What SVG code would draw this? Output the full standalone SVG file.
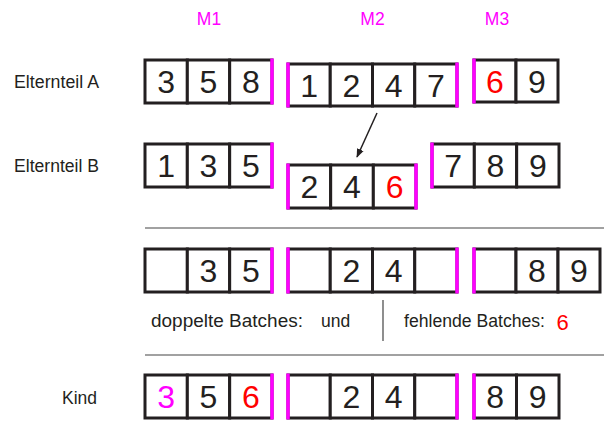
<svg xmlns="http://www.w3.org/2000/svg" width="604" height="421" viewBox="0 0 604 421">
<defs>
<style>
.c{fill:#fff;stroke:#231f20;stroke-width:3}
.m{stroke:#ff00ff;stroke-width:3.5}
.d{font-family:"Liberation Sans",Arial,sans-serif;font-size:32px;fill:#231f20;text-anchor:middle}
.r{fill:#ff0000}
.p{fill:#ff00ff}
.l{font-family:"Liberation Sans",Arial,sans-serif;font-size:17.5px;fill:#231f20}
.h{font-family:"Liberation Sans",Arial,sans-serif;font-size:17.5px;fill:#ff00ff;text-anchor:middle}
.sep{stroke:#444;stroke-width:1.2;fill:none}
</style>
<marker id="ah" viewBox="0 0 10 10" refX="9" refY="5" markerWidth="9" markerHeight="9" orient="auto" markerUnits="userSpaceOnUse">
<path d="M0,1 L10,5 L0,9 Z" fill="#231f20"/>
</marker>
</defs>
<rect width="604" height="421" fill="#fff"/>

<g id="headers">
<text class="h" x="209" y="25">M1</text>
<text class="h" x="372.5" y="25">M2</text>
<text class="h" x="497" y="25">M3</text>
</g>
<g id="rowlabels">
<text class="l" x="14" y="88" textLength="85" lengthAdjust="spacingAndGlyphs">Elternteil A</text>
<text class="l" x="14" y="172" textLength="85" lengthAdjust="spacingAndGlyphs">Elternteil B</text>
<text class="l" x="62" y="404">Kind</text>
</g>

<g id="A-M1">
<rect class="c" x="145" y="60" width="42.33" height="43"/><rect class="c" x="187.33" y="60" width="42.33" height="43"/><rect class="c" x="229.67" y="60" width="42.33" height="43"/>
<line class="m" x1="272" y1="58.5" x2="272" y2="104.5"/>
<text class="d" x="166.2" y="93">3</text><text class="d" x="208.5" y="93">5</text><text class="d" x="250.8" y="93">8</text>
</g>
<g id="A-M2">
<rect class="c" x="288" y="64" width="42.25" height="42"/><rect class="c" x="330.25" y="64" width="42.25" height="42"/><rect class="c" x="372.5" y="64" width="42.25" height="42"/><rect class="c" x="414.75" y="64" width="42.25" height="42"/>
<line class="m" x1="288" y1="62.5" x2="288" y2="107.5"/><line class="m" x1="457" y1="62.5" x2="457" y2="107.5"/>
<text class="d" x="309.1" y="96.5">1</text><text class="d" x="351.4" y="96.5">2</text><text class="d" x="393.6" y="96.5">4</text><text class="d" x="435.9" y="96.5">7</text>
</g>
<g id="A-M3">
<rect class="c" x="474" y="60" width="42" height="42"/><rect class="c" x="516" y="60" width="42" height="42"/>
<line class="m" x1="474" y1="58.5" x2="474" y2="103.5"/>
<text class="d r" x="495" y="92.5">6</text><text class="d" x="537" y="92.5">9</text>
</g>

<g id="B-M1">
<rect class="c" x="145" y="144" width="42.33" height="43"/><rect class="c" x="187.33" y="144" width="42.33" height="43"/><rect class="c" x="229.67" y="144" width="42.33" height="43"/>
<line class="m" x1="272" y1="142.5" x2="272" y2="188.5"/>
<text class="d" x="166.2" y="177">1</text><text class="d" x="208.5" y="177">3</text><text class="d" x="250.8" y="177">5</text>
</g>
<g id="B-M2">
<rect class="c" x="288" y="165" width="42.67" height="43"/><rect class="c" x="330.67" y="165" width="42.67" height="43"/><rect class="c" x="373.33" y="165" width="42.67" height="43"/>
<line class="m" x1="288" y1="163.5" x2="288" y2="209.5"/><line class="m" x1="416" y1="163.5" x2="416" y2="209.5"/>
<text class="d" x="309.3" y="198">2</text><text class="d" x="352" y="198">4</text><text class="d r" x="394.7" y="198">6</text>
</g>
<g id="B-M3">
<rect class="c" x="432" y="144" width="42.33" height="43"/><rect class="c" x="474.33" y="144" width="42.33" height="43"/><rect class="c" x="516.67" y="144" width="42.33" height="43"/>
<line class="m" x1="432" y1="142.5" x2="432" y2="188.5"/>
<text class="d" x="453.2" y="177">7</text><text class="d" x="495.5" y="177">8</text><text class="d" x="537.8" y="177">9</text>
</g>

<g id="C-M1">
<rect class="c" x="145" y="249" width="42.33" height="43"/><rect class="c" x="187.33" y="249" width="42.33" height="43"/><rect class="c" x="229.67" y="249" width="42.33" height="43"/>
<line class="m" x1="272" y1="247.5" x2="272" y2="293.5"/>
<text class="d" x="208.5" y="282">3</text><text class="d" x="250.8" y="282">5</text>
</g>
<g id="C-M2">
<rect class="c" x="288" y="249" width="42.25" height="43"/><rect class="c" x="330.25" y="249" width="42.25" height="43"/><rect class="c" x="372.5" y="249" width="42.25" height="43"/><rect class="c" x="414.75" y="249" width="42.25" height="43"/>
<line class="m" x1="288" y1="247.5" x2="288" y2="293.5"/><line class="m" x1="457" y1="247.5" x2="457" y2="293.5"/>
<text class="d" x="351.4" y="282">2</text><text class="d" x="393.6" y="282">4</text>
</g>
<g id="C-M3">
<rect class="c" x="474" y="249" width="42" height="43"/><rect class="c" x="516" y="249" width="42" height="43"/><rect class="c" x="558" y="249" width="42" height="43"/>
<line class="m" x1="474" y1="247.5" x2="474" y2="293.5"/>
<text class="d" x="537" y="282">8</text><text class="d" x="579" y="282">9</text>
</g>

<g id="notes">
<text class="l" x="151" y="327" textLength="152" lengthAdjust="spacingAndGlyphs">doppelte Batches:</text>
<text class="l" x="321" y="327">und</text>
<text class="l" x="404" y="327" textLength="141" lengthAdjust="spacingAndGlyphs">fehlende Batches:</text>
<text class="d r" x="562.5" y="330" style="font-size:22px">6</text>
</g>

<g id="K-M1">
<rect class="c" x="145" y="375" width="42.33" height="43"/><rect class="c" x="187.33" y="375" width="42.33" height="43"/><rect class="c" x="229.67" y="375" width="42.33" height="43"/>
<line class="m" x1="272" y1="373.5" x2="272" y2="419.5"/>
<text class="d p" x="166.2" y="408">3</text><text class="d" x="208.5" y="408">5</text><text class="d r" x="250.8" y="408">6</text>
</g>
<g id="K-M2">
<rect class="c" x="288" y="375" width="42.25" height="43"/><rect class="c" x="330.25" y="375" width="42.25" height="43"/><rect class="c" x="372.5" y="375" width="42.25" height="43"/><rect class="c" x="414.75" y="375" width="42.25" height="43"/>
<line class="m" x1="288" y1="373.5" x2="288" y2="419.5"/><line class="m" x1="457" y1="373.5" x2="457" y2="419.5"/>
<text class="d" x="351.4" y="408">2</text><text class="d" x="393.6" y="408">4</text>
</g>
<g id="K-M3">
<rect class="c" x="474" y="375" width="42.5" height="43"/><rect class="c" x="516.5" y="375" width="42.5" height="43"/>
<line class="m" x1="474" y1="373.5" x2="474" y2="419.5"/>
<text class="d" x="495.2" y="408">8</text><text class="d" x="537.7" y="408">9</text>
</g>

<g id="connectors">
<line x1="377" y1="113" x2="357" y2="157" stroke="#231f20" stroke-width="1.5" marker-end="url(#ah)"/>
<line class="sep" x1="145" y1="228" x2="604" y2="228"/>
<line class="sep" x1="145" y1="355" x2="604" y2="355"/>
<line class="sep" x1="383" y1="300" x2="383" y2="341"/>
</g>
</svg>
